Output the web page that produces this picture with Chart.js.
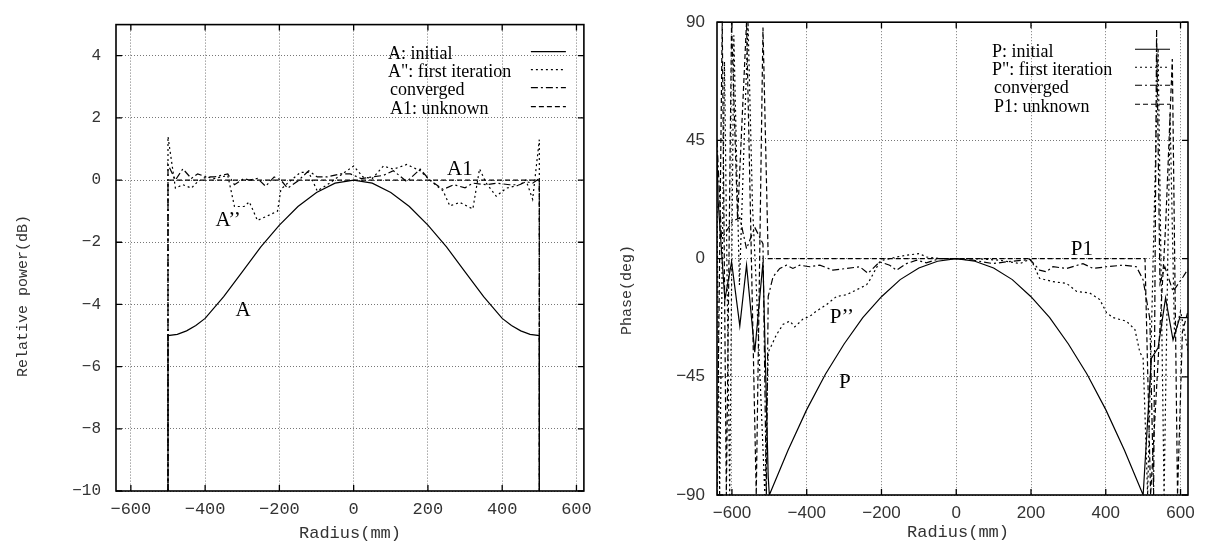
<!DOCTYPE html>
<html>
<head>
<meta charset="utf-8">
<script src="https://cdn.jsdelivr.net/npm/chart.js@4.4.1/dist/chart.umd.min.js"></script>
<style>
    body { margin: 0; background: #fff; width: 1205px; height: 542px; overflow: hidden; position: relative; }
    .box { position: absolute; top: 0; height: 542px; }
    #leftBox { left: 0; width: 600px; }
    #rightBox { left: 600px; width: 605px; }
</style>
</head>
<body>
<div class="box" id="leftBox"><canvas id="powerChart"></canvas></div>
<div class="box" id="rightBox"><canvas id="phaseChart"></canvas></div>
<script>
// [radius (mm), value]
const powerInitial = [[-500,-10],[-500,-5],[-475,-4.96],[-450,-4.85],[-425,-4.68],[-400,-4.45],[-350,-3.75],[-300,-2.95],[-250,-2.15],[-200,-1.45],[-150,-0.85],[-100,-0.4],[-50,-0.1],[0,0],[50,-0.1],[100,-0.4],[150,-0.85],[200,-1.45],[250,-2.15],[300,-2.95],[350,-3.75],[400,-4.45],[425,-4.68],[450,-4.85],[475,-4.96],[500,-5],[500,-10]];
const powerFirst = [[-500,-10],[-500,1.4],[-480,-0.26],[-460,-0.15],[-437,-0.26],[-420,-0.05],[-397,0.1],[-375,0.05],[-339,0.15],[-321,-0.85],[-295,-0.85],[-281,-0.7],[-259,-1.3],[-232,-1.15],[-205,-1.0],[-196,-0.3],[-178,-0.1],[-143,0.25],[-121,0.25],[-98,-0.35],[-71,-0.15],[-36,0.15],[0,0.45],[25,0.1],[50,0.05],[80,0.45],[107,0.35],[143,0.5],[179,0.3],[205,0],[241,-0.35],[259,-0.83],[286,-0.72],[321,-0.93],[339,0.36],[357,-0.1],[384,-0.52],[411,-0.26],[447,-0.16],[464,0],[482,-0.62],[500,1.3],[500,-10]];
const powerConverged = [[-500,-10],[-500,0.5],[-480,0],[-460,0.36],[-437,0.05],[-420,0.2],[-397,0.1],[-375,0.1],[-339,0.2],[-321,-0.15],[-295,0.05],[-281,0],[-259,0.05],[-237,-0.2],[-214,0.1],[-196,0],[-178,-0.26],[-152,-0.05],[-121,0.3],[-98,0.1],[-71,0.1],[-36,0.2],[-9,0.2],[20,0.05],[50,0.1],[80,0.15],[107,0.3],[143,-0.05],[179,0.35],[205,0],[241,-0.3],[270,-0.15],[300,-0.25],[321,-0.1],[357,-0.15],[384,-0.1],[420,-0.15],[447,-0.15],[464,-0.05],[482,-0.1],[500,0.05],[500,-10]];
const powerUnknown = [[-500,-10],[-500,0],[500,0],[500,-10]];

const phaseInitial = [[-640,40],[-637,22],[-619,-15.6],[-601,-1.3],[-579,-25.6],[-561,-2.5],[-539,-35.6],[-517,-1.3],[-503,-83],[-500,-90],[-450,-73],[-400,-57.5],[-350,-44],[-300,-32.5],[-250,-22.5],[-200,-14.5],[-150,-8],[-100,-3.6],[-50,-1],[0,0],[50,-1],[100,-3.6],[150,-8],[200,-14.5],[250,-22.5],[300,-32.5],[350,-44],[400,-57.5],[450,-73],[500,-90],[522,-38],[540,-34],[560,-15],[580,-31],[598,-22.5],[620,-22.5]];
const phaseFirst = [[-640,20],[-633,-90],[-620,75],[-606,-90],[-595,85],[-580,-10],[-557,90],[-545,20],[-535,-10],[-512,-90],[-503,-35.6],[-494,-33],[-481,-29],[-463,-25],[-445,-23.8],[-432,-26],[-410,-23],[-392,-22],[-374,-20],[-347,-17.5],[-320,-14.4],[-294,-13.8],[-267,-11.9],[-240,-10],[-231,-8.1],[-205,-1.3],[-196,-0.6],[-160,0.6],[-133,1.3],[-98,1.9],[-80,0.6],[-44,0],[45,0],[116,-0.6],[170,-1.9],[197,-0.3],[205,-1.9],[223,-7.5],[259,-8.8],[295,-9.4],[322,-12.5],[357,-13.1],[384,-15.6],[402,-20.6],[420,-22.5],[455,-23.8],[478,-27],[491,-35.6],[500,-38],[512,-90],[540,80],[556,-90],[572,55],[584,-30],[600,-20],[620,-35]];
const phaseConverged = [[-640,45],[-628,8],[-619,9.4],[-600,14],[-579,15.6],[-561,3.75],[-539,11.9],[-517,5.6],[-508,-90],[-503,-14.4],[-490,-6.9],[-472,-3.75],[-454,-2.5],[-437,-3.75],[-419,-2.5],[-392,-3.1],[-365,-2.5],[-330,-4.4],[-294,-3.75],[-258,-3.1],[-236,-5.6],[-205,-1.25],[-178,-2.5],[-160,-4.4],[-133,-1.9],[-106,-0.6],[-80,-1.6],[-44,0],[0,0],[45,-0.6],[98,-1.9],[134,-1.25],[197,-0.3],[223,-4.4],[241,-5],[259,-3.1],[295,-3.75],[339,-1.9],[366,-3.75],[402,-3.1],[446,-2.5],[482,-3.1],[500,-8.1],[518,-23],[528,-90],[536,87],[545,-9.4],[558,-3.1],[580,-12.5],[607,-6.9],[620,-4]];
const phaseUnknown = [[-640,-90],[-626,90],[-615,-90],[-601,90],[-585,15],[-561,90],[-535,-90],[-517,88],[-503,0],[505,0],[520,-90],[560,12],[578,76],[592,-90],[605,-28],[620,-20]];

const radiusTicks = [-600, -400, -200, 0, 200, 400, 600];
const powerTicks = [-10, -8, -6, -4, -2, 0, 2, 4];
const phaseTicks = [-90, -45, 0, 45, 90];

const powerLegend = ['A: initial', 'A": first iteration', 'converged', 'A1: unknown'];
const phaseLegend = ['P: initial', 'P": first iteration', 'converged', 'P1: unknown'];
const powerNotes = [['A', -298, -4.2], ['A\u2019\u2019', -338, -1.3], ['A1', 286, 0.35]];
const phaseNotes = [['P\u2019\u2019', -306, -22.5], ['P', -298, -47], ['P1', 336, 3.4]];

const DASHES = [[], [2, 3], [7, 3, 2, 3], [5, 3]];
const MONO = '"Liberation Mono", "DejaVu Sans Mono", monospace';
const SERIF = '"Liberation Serif", "DejaVu Serif", serif';
const SANS = '"Liberation Sans", Arial, sans-serif';

const minus = v => String(v).replace('-', '\u2212');

function lineSet(label, pairs, dash) {
    return {
        label,
        data: pairs.map(([x, y]) => ({x, y})),
        borderColor: '#000',
        borderWidth: 1.2,
        borderDash: dash,
        pointRadius: 0,
        tension: 0,
        fill: false
    };
}

const gnuplotFrame = {
    id: 'gnuplotFrame',
    afterDatasetsDraw(chart, _args, opts) {
        const {ctx, chartArea: a, scales: {x, y}} = chart;
        ctx.save();
        ctx.setLineDash([]);
        ctx.strokeStyle = '#000';
        ctx.lineWidth = 1.3;
        x.ticks.forEach(t => {
            const px = x.getPixelForValue(t.value);
            ctx.beginPath();
            ctx.moveTo(px, a.bottom); ctx.lineTo(px, a.bottom - 6);
            ctx.moveTo(px, a.top); ctx.lineTo(px, a.top + 6);
            ctx.stroke();
        });
        y.ticks.forEach(t => {
            const py = y.getPixelForValue(t.value);
            ctx.beginPath();
            ctx.moveTo(a.left, py); ctx.lineTo(a.left + 6, py);
            ctx.moveTo(a.right, py); ctx.lineTo(a.right - 6, py);
            ctx.stroke();
        });
        ctx.lineWidth = 1.6;
        ctx.strokeRect(a.left, a.top, a.right - a.left, a.bottom - a.top);

        // legend, top right inside the frame
        ctx.fillStyle = '#000';
        ctx.font = '18px ' + SERIF;
        ctx.textBaseline = 'middle';
        ctx.textAlign = 'left';
        const rows = [30, 48, 66, 85];
        opts.legend.forEach((text, i) => {
            ctx.fillText(text, a.right - 196 + (i > 1 ? 2 : 0), a.top + rows[i]);
            ctx.setLineDash(DASHES[i]);
            ctx.lineWidth = 1.1;
            ctx.beginPath();
            ctx.moveTo(a.right - 53, a.top + rows[i] - 3);
            ctx.lineTo(a.right - 18, a.top + rows[i] - 3);
            ctx.stroke();
        });
        ctx.setLineDash([]);

        // curve labels placed at data coordinates
        ctx.font = '21px ' + SERIF;
        ctx.textAlign = 'center';
        opts.notes.forEach(([text, vx, vy]) => {
            ctx.fillText(text, x.getPixelForValue(vx), y.getPixelForValue(vy));
        });

        // axis titles
        ctx.fillStyle = '#333';
        ctx.font = opts.xTitle.size + 'px ' + MONO;
        ctx.fillText(opts.xTitle.text, opts.xTitle.x, opts.xTitle.y);
        ctx.font = opts.yTitle.size + 'px ' + MONO;
        ctx.translate(opts.yTitle.x, opts.yTitle.y);
        ctx.rotate(-Math.PI / 2);
        ctx.fillText(opts.yTitle.text, 0, 0);
        ctx.restore();
    }
};

function makeChart(canvasId, cfg) {
    const gridStyle = {color: '#777', lineWidth: 1, drawTicks: false, borderDash: [1, 2]};
    return new Chart(document.getElementById(canvasId), {
        type: 'line',
        data: {
            datasets: cfg.series.map((pairs, i) => lineSet(cfg.legend[i], pairs, DASHES[i]))
        },
        options: {
            responsive: true,
            maintainAspectRatio: false,
            animation: false,
            layout: {padding: {top: cfg.top, right: cfg.right, left: 0, bottom: 0}},
            plugins: {
                legend: {display: false},
                tooltip: {enabled: false},
                gnuplotFrame: {legend: cfg.legend, notes: cfg.notes, xTitle: cfg.xTitle, yTitle: cfg.yTitle}
            },
            scales: {
                x: {
                    type: 'linear',
                    min: -640,
                    max: 620,
                    afterBuildTicks: s => { s.ticks = radiusTicks.map(value => ({value})); },
                    afterFit: s => { s.height = cfg.xHeight; },
                    ticks: {color: '#333', font: cfg.xFont, padding: 8, maxRotation: 0, autoSkip: false, callback: v => minus(v)},
                    grid: gridStyle,
                    border: {display: false, dash: [1, 2]}
                },
                y: {
                    type: 'linear',
                    min: cfg.yMin,
                    max: cfg.yMax,
                    afterBuildTicks: s => { s.ticks = cfg.yTicks.map(value => ({value})); },
                    afterFit: s => { s.width = cfg.yWidth; },
                    ticks: {color: '#333', font: cfg.yFont, padding: cfg.yPad, callback: v => minus(v)},
                    grid: gridStyle,
                    border: {display: false, dash: [1, 2]}
                }
            }
        },
        plugins: [gnuplotFrame]
    });
}

makeChart('powerChart', {
    series: [powerInitial, powerFirst, powerConverged, powerUnknown],
    legend: powerLegend,
    notes: powerNotes,
    yMin: -10, yMax: 5, yTicks: powerTicks,
    top: 13, right: 15, xHeight: 51, yWidth: 116, yPad: 15,
    xFont: {family: MONO, size: 17},
    yFont: {family: MONO, size: 16},
    xTitle: {text: 'Radius(mm)', x: 350, y: 533, size: 17},
    yTitle: {text: 'Relative power(dB)', x: 23, y: 296, size: 15}
});

makeChart('phaseChart', {
    series: [phaseInitial, phaseFirst, phaseConverged, phaseUnknown],
    legend: phaseLegend,
    notes: phaseNotes,
    yMin: -90, yMax: 90, yTicks: phaseTicks,
    top: 15, right: 17, xHeight: 47, yWidth: 117, yPad: 12,
    xFont: {family: SANS, size: 17},
    yFont: {family: SANS, size: 17},
    xTitle: {text: 'Radius(mm)', x: 358, y: 532, size: 17},
    yTitle: {text: 'Phase(deg)', x: 27, y: 290, size: 15}
});
</script>
</body>
</html>
